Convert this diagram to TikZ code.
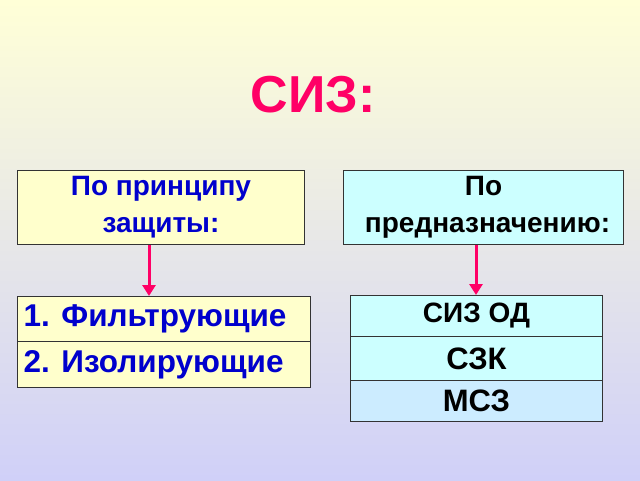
\documentclass[tikz,border=0pt]{standalone}
\usepackage{fontspec}
\setmainfont{Liberation Sans}
\usetikzlibrary{arrows.meta}
\definecolor{pinkc}{RGB}{255,0,102}
\definecolor{yel}{RGB}{255,255,204}
\definecolor{cya}{RGB}{204,255,255}
\definecolor{blu}{RGB}{204,236,255}
\definecolor{txtb}{RGB}{0,0,204}
\definecolor{bgtop}{RGB}{255,255,215}
\definecolor{bgbot}{RGB}{208,208,248}
\begin{document}
\begin{tikzpicture}[x=1pt,y=-1pt,
  box/.style={draw=black!80,line width=1pt,inner sep=0pt,anchor=north west},
  arr/.style={draw=pinkc,line width=3pt,-{Triangle[length=11pt,width=13pt]}},
  bt/.style={font=\bfseries\fontsize{28}{37}\selectfont,align=center}]
\shade[top color=bgtop,bottom color=bgbot] (0,0) rectangle (640,480);
\useasboundingbox (0,0) rectangle (640,480);
\node[text=pinkc,font=\bfseries\fontsize{52}{60}\selectfont] (t) at (313,95) {СИЗ:};
\node[box,fill=yel,minimum width=287pt,minimum height=74pt,bt,text=txtb] (a) at (17,170) {По принципу\\защиты:};
\node[box,fill=cya,minimum width=280pt,minimum height=74pt,bt] (b) at (343,170) {По\\ \hspace*{8pt}предназначению:};
\node[box,fill=yel,minimum width=293pt,minimum height=45pt,text=txtb,font=\bfseries\fontsize{31.5}{34}\selectfont,align=flush left,text width=293pt] (f) at (17,296) {\hspace*{6pt}1. Фильтрующие};
\node[box,fill=yel,minimum width=293pt,minimum height=46pt,text=txtb,font=\bfseries\fontsize{31.5}{34}\selectfont,align=flush left,text width=293pt] (i) at (17,341) {\hspace*{6pt}2. Изолирующие};
\node[box,fill=cya,minimum width=252pt,minimum height=41pt,font=\bfseries\fontsize{28}{30}\selectfont] (s) at (350,295) {СИЗ ОД};
\node[box,fill=cya,minimum width=252pt,minimum height=44pt,font=\bfseries\fontsize{31}{32}\selectfont] (k) at (350,336) {СЗК};
\node[box,fill=blu,minimum width=252pt,minimum height=41pt,font=\bfseries\fontsize{31}{32}\selectfont] (m) at (350,380) {МСЗ};
\draw[arr] (a.south -| 149,0) -- (f.north -| 149,0);
\draw[arr] (b.south -| 476,0) -- (s.north -| 476,0);
\end{tikzpicture}
\end{document}
